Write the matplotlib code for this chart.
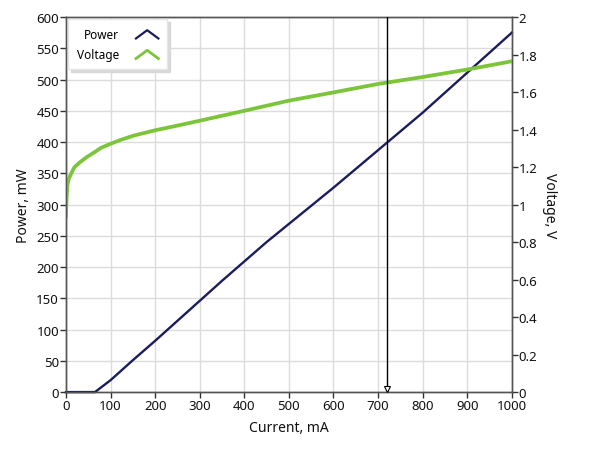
import matplotlib
matplotlib.use("Agg")
import matplotlib.pyplot as plt
from matplotlib.lines import Line2D
from matplotlib.legend_handler import HandlerBase
from matplotlib.ticker import FuncFormatter, MultipleLocator

# ---- data ----
power_current = [0, 30, 65, 100, 150, 200, 250, 300, 350, 400, 450, 500, 550, 600,
                 650, 700, 720, 750, 800, 850, 900, 950, 1000]
power_mw = [0, 0, 0, 19, 51, 82, 114, 146, 178, 209, 240, 269, 298, 327,
            357, 387, 399, 417, 447, 479, 511, 543, 575]

voltage_current = [0, 1.5, 3, 6, 12, 19, 31, 46, 64, 79, 100, 124, 154, 200, 250,
                   300, 400, 500, 600, 700, 800, 900, 1000]
voltage_v = [0.939, 1.037, 1.10, 1.136, 1.167, 1.199, 1.225, 1.252, 1.279, 1.303,
             1.324, 1.346, 1.369, 1.396, 1.421, 1.447, 1.50, 1.554, 1.598, 1.643,
             1.68, 1.72, 1.764]

cursor_current = 720
x_label = "Current, mA"
y_label = "Power, mW"
y2_label = "Voltage, V"
legend_labels = ["Power", "Voltage"]

POWER_COLOR = "#1b1c5e"
VOLT_COLOR = "#7cc53a"

plt.rcParams['font.family'] = ['Noto Sans', 'DejaVu Sans']

fig = plt.figure(figsize=(5.89, 4.56), dpi=100)
ax = fig.add_axes([0.112, 0.138, 0.757, 0.8225])
ax2 = ax.twinx()

ax.set_xlim(0, 1000)
ax.set_ylim(0, 600)
ax2.set_ylim(0, 2)

ax.xaxis.set_major_locator(MultipleLocator(100))
ax.yaxis.set_major_locator(MultipleLocator(50))
ax2.yaxis.set_major_locator(MultipleLocator(0.2))
ax2.yaxis.set_major_formatter(FuncFormatter(lambda v, p: f"{v:g}"))

ax.grid(True, color="#dcdcdc", lw=1)
ax.set_axisbelow(True)

for a in (ax, ax2):
    for s in a.spines.values():
        s.set_color("#555555")
        s.set_linewidth(1)
    a.tick_params(length=4, width=1, color="#333333", pad=1, labelsize=9.5, labelcolor="#111111")

ax.plot(power_current, power_mw, color=POWER_COLOR, lw=1.7, zorder=3, clip_on=False)
ax2.plot(voltage_current, voltage_v, color=VOLT_COLOR, lw=2.7, zorder=2,
         solid_joinstyle="round")

ax2.axvline(cursor_current, color="black", lw=1, zorder=5)
ax2.plot([cursor_current], [0.015], marker="v", ms=4, mfc="white", mec="black", mew=0.8, zorder=6)

ax.set_xlabel(x_label, fontsize=10, labelpad=6, color="#111111")
ax.set_ylabel(y_label, fontsize=10, labelpad=4, color="#111111")
ax2.set_ylabel(y2_label, fontsize=10, rotation=270, labelpad=14, color="#111111")


class ChevronHandler(HandlerBase):
    def create_artists(self, legend, orig_handle, xdescent, ydescent, width, height, fontsize, trans):
        w = width * 0.95
        x0 = -xdescent + (width - w) / 2
        y0 = -ydescent - height * 0.1
        line = Line2D([x0, x0 + w / 2, x0 + w], [y0, y0 + height * 1.0, y0],
                      color=orig_handle.get_color(), lw=orig_handle.get_linewidth())
        line.set_transform(trans)
        return [line]


h1 = Line2D([], [], color=POWER_COLOR, lw=1.6)
h2 = Line2D([], [], color=VOLT_COLOR, lw=2.0)
leg = ax2.legend([h1, h2], legend_labels, loc="upper left", markerfirst=False,
                 handler_map={Line2D: ChevronHandler()}, fontsize=8.5,
                 frameon=True, fancybox=False, edgecolor="#e6e6e6", framealpha=1,
                 shadow={'color': '#d8d8d8', 'alpha': 1}, borderaxespad=0.2,
                 handlelength=2.0, handletextpad=1.4, borderpad=0.7, labelspacing=0.6)
leg.get_frame().set_linewidth(1)

fig.savefig("out.png", dpi=100)
